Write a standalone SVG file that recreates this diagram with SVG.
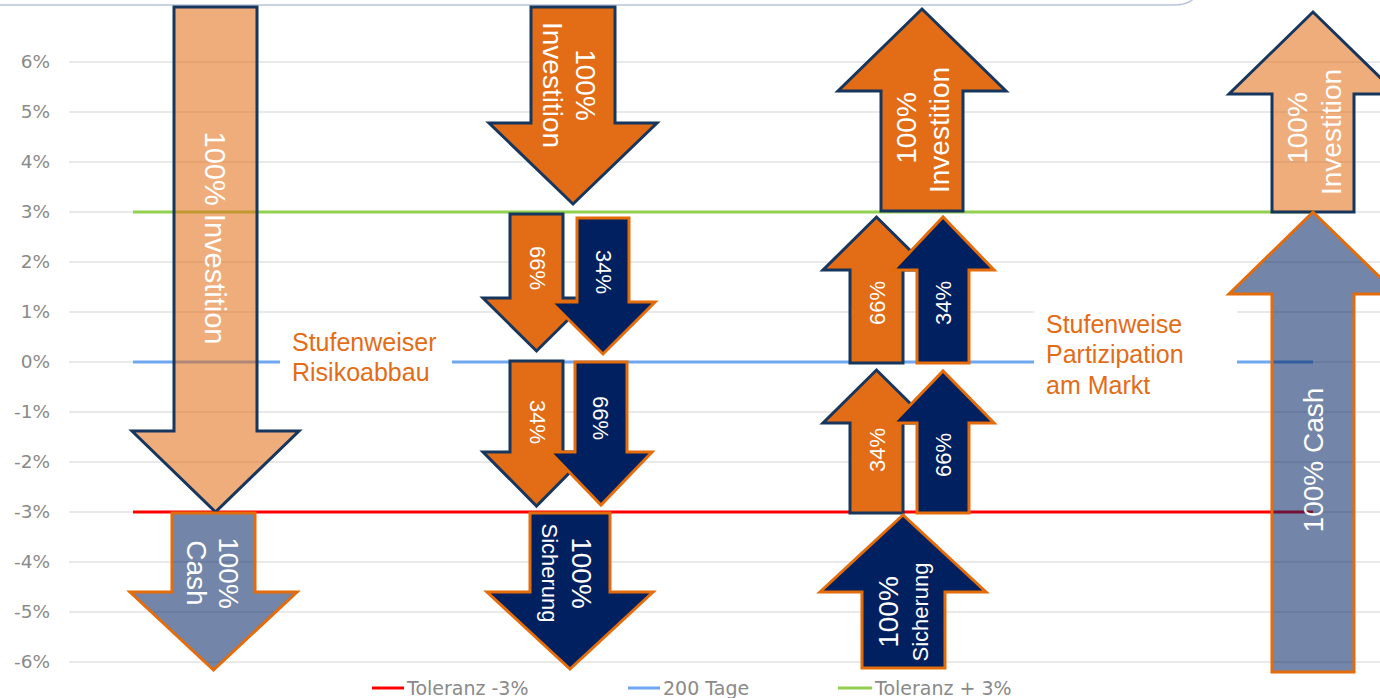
<svg xmlns="http://www.w3.org/2000/svg" width="1380" height="698" viewBox="0 0 1380 698">
<style>
.grid{stroke:#e2e2e2;stroke-width:1.5;fill:none}
.ax{font-family:"DejaVu Sans",Verdana,sans-serif;font-size:18.5px;fill:#8a8a8a;text-anchor:end}
.lg{font-family:"DejaVu Sans",Verdana,sans-serif;font-size:19px;fill:#8a8a8a}
.ser{stroke-width:3;fill:none}
.oS{fill:#e36c16;stroke:#17365d;stroke-width:3;stroke-linejoin:miter}
.nS{fill:#002060;stroke:#e46c0a;stroke-width:3;stroke-linejoin:miter}
.oL{fill:#e36c16;fill-opacity:0.56;stroke:#17365d;stroke-width:3}
.nL{fill:#002060;fill-opacity:0.55;stroke:#e46c0a;stroke-width:3}
.lb{font-family:"Liberation Sans",Arial,sans-serif;fill:#ffffff;text-anchor:middle;dominant-baseline:central}
.big{font-size:28px}
.xl{font-size:29px}
.sm{font-size:22px}
.sc{font-size:22px}
.note{font-family:"Liberation Sans",Arial,sans-serif;font-size:25px;fill:#e36c16}
</style>
<rect x="0" y="0" width="1380" height="698" fill="#ffffff"/>
<path d="M0,5 L1172,5 Q1189,5 1194,-2" fill="none" stroke="#b9c3dd" stroke-width="1.5"/>
<g id="gridlines">
<line class="grid" x1="69" y1="62" x2="1380" y2="62"/>
<line class="grid" x1="69" y1="112" x2="1380" y2="112"/>
<line class="grid" x1="69" y1="162" x2="1380" y2="162"/>
<line class="grid" x1="69" y1="212" x2="1380" y2="212"/>
<line class="grid" x1="69" y1="262" x2="1380" y2="262"/>
<line class="grid" x1="69" y1="312" x2="1380" y2="312"/>
<line class="grid" x1="69" y1="362" x2="1380" y2="362"/>
<line class="grid" x1="69" y1="412" x2="1380" y2="412"/>
<line class="grid" x1="69" y1="462" x2="1380" y2="462"/>
<line class="grid" x1="69" y1="512" x2="1380" y2="512"/>
<line class="grid" x1="69" y1="562" x2="1380" y2="562"/>
<line class="grid" x1="69" y1="612" x2="1380" y2="612"/>
<line class="grid" x1="69" y1="662" x2="1380" y2="662"/>
</g>
<g id="axis-labels">
<text class="ax" x="50" y="68">6%</text>
<text class="ax" x="50" y="118">5%</text>
<text class="ax" x="50" y="168">4%</text>
<text class="ax" x="50" y="218">3%</text>
<text class="ax" x="50" y="268">2%</text>
<text class="ax" x="50" y="318">1%</text>
<text class="ax" x="50" y="368">0%</text>
<text class="ax" x="50" y="418">-1%</text>
<text class="ax" x="50" y="468">-2%</text>
<text class="ax" x="50" y="518">-3%</text>
<text class="ax" x="50" y="568">-4%</text>
<text class="ax" x="50" y="618">-5%</text>
<text class="ax" x="50" y="668">-6%</text>
</g>
<g id="connectors">
<line class="ser" x1="133" y1="212" x2="1313" y2="212" stroke="#92d050"/>
<line class="ser" x1="133" y1="362" x2="1313" y2="362" stroke="#6fa8f0"/>
<line class="ser" x1="133" y1="512" x2="1313" y2="512" stroke="#ff0000"/>
</g>
<g id="note-risikoabbau">
<rect x="280" y="315" width="172" height="82" fill="#ffffff"/>
<text class="note" x="292" y="351">Stufenweiser</text>
<text class="note" x="292" y="381">Risikoabbau</text>
</g>
<g id="note-partizipation">
<rect x="1034" y="305" width="203" height="100" fill="#ffffff"/>
<text class="note" x="1046" y="333">Stufenweise</text>
<text class="note" x="1046" y="363">Partizipation</text>
<text class="note" x="1046" y="394">am Markt</text>
</g>
<g id="arrow-left-investition">
<polygon class="oL" points="174,7 257,7 257,431 299,431 215.5,512 132,431 174,431"/>
<text class="lb xl" transform="translate(215,238) rotate(90)">100% Investition</text>
</g>
<g id="arrow-left-cash">
<polygon class="nL" points="172,513 255,513 255,592 297,592 213.5,670 130,592 172,592"/>
<text class="lb big" transform="translate(228,573) rotate(90)">100%</text>
<text class="lb big" transform="translate(196,573) rotate(90)">Cash</text>
</g>
<g id="arrow-mid-investition">
<polygon class="oS" points="531,7 615,7 615,123 657,123 573,204 489,123 531,123"/>
<text class="lb big" transform="translate(585,85) rotate(90)">100%</text>
<text class="lb big" transform="translate(552,85) rotate(90)">Investition</text>
</g>
<g id="arrow-down-66">
<polygon class="oS" points="510,214 563,214 563,298 590,298 536.5,351 483,298 510,298"/>
<text class="lb sm" transform="translate(537,268) rotate(90)">66%</text>
</g>
<g id="arrow-down-34-navy">
<polygon class="nS" points="577,218 629,218 629,302 655,302 603,354 551,302 577,302"/>
<text class="lb sm" transform="translate(603,272) rotate(90)">34%</text>
</g>
<g id="arrow-down-34">
<polygon class="oS" points="510,361 563,361 563,452 590,452 536.5,506 483,452 510,452"/>
<text class="lb sm" transform="translate(537,422) rotate(90)">34%</text>
</g>
<g id="arrow-down-66-navy">
<polygon class="nS" points="575,362 627,362 627,452 652,452 601,505 550,452 575,452"/>
<text class="lb sm" transform="translate(600,418) rotate(90)">66%</text>
</g>
<g id="arrow-down-sicherung">
<polygon class="nS" points="530,513 610,513 610,592 653,592 570,669 487,592 530,592"/>
<text class="lb big" transform="translate(581,573) rotate(90)">100%</text>
<text class="lb sc" transform="translate(549,573) rotate(90)">Sicherung</text>
</g>
<g id="arrow-up-investition">
<polygon class="oS" points="881,211 963,211 963,91 1006,91 922,9 838,91 881,91"/>
<text class="lb big" transform="translate(906,128) rotate(-90)">100%</text>
<text class="lb big" transform="translate(939,130) rotate(-90)">Investition</text>
</g>
<g id="arrow-up-66">
<polygon class="oS" points="850,363 903,363 903,270 930,270 876.5,217 823,270 850,270"/>
<text class="lb sm" transform="translate(877,303) rotate(-90)">66%</text>
</g>
<g id="arrow-up-34-navy">
<polygon class="nS" points="917,363 969,363 969,270 994,270 943,217 893,270 917,270"/>
<text class="lb sm" transform="translate(943,303) rotate(-90)">34%</text>
</g>
<g id="arrow-up-34">
<polygon class="oS" points="850,513 903,513 903,423 930,423 876.5,370 823,423 850,423"/>
<text class="lb sm" transform="translate(877,450) rotate(-90)">34%</text>
</g>
<g id="arrow-up-66-navy">
<polygon class="nS" points="917,513 969,513 969,423 994,423 943,371 893,423 917,423"/>
<text class="lb sm" transform="translate(943,455) rotate(-90)">66%</text>
</g>
<g id="arrow-up-sicherung">
<polygon class="nS" points="862,668 945,668 945,592 986,592 903,515 820,592 862,592"/>
<text class="lb big" transform="translate(888,612) rotate(-90)">100%</text>
<text class="lb sc" transform="translate(920,612) rotate(-90)">Sicherung</text>
</g>
<g id="arrow-right-investition">
<polygon class="oL" points="1272,212 1354,212 1354,94 1397,94 1313,12 1229,94 1272,94"/>
<text class="lb big" transform="translate(1297,128) rotate(-90)">100%</text>
<text class="lb big" transform="translate(1331,132) rotate(-90)">Investition</text>
</g>
<g id="arrow-right-cash">
<polygon class="nL" points="1272,672 1354,672 1354,294 1397,294 1313,212 1229,294 1272,294"/>
<text class="lb big" transform="translate(1313,460) rotate(-90)">100% Cash</text>
</g>
<g id="legend">
<line x1="372" y1="688" x2="404" y2="688" stroke="#ff0000" stroke-width="3"/>
<text class="lg" x="407" y="695">Toleranz -3%</text>
<line x1="628" y1="688" x2="660" y2="688" stroke="#6fa8f0" stroke-width="3"/>
<text class="lg" x="663" y="695">200 Tage</text>
<line x1="838" y1="688" x2="872" y2="688" stroke="#92d050" stroke-width="3"/>
<text class="lg" x="875" y="695">Toleranz + 3%</text>
</g>
</svg>
